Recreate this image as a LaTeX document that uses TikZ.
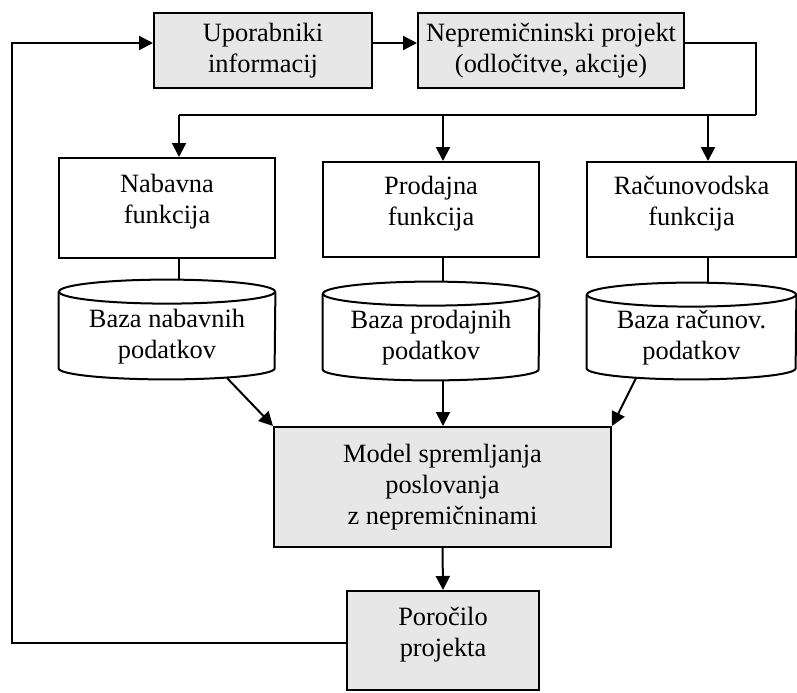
\documentclass[tikz,border=0pt]{standalone}
\usepackage{fontspec}
\setmainfont{Liberation Serif}
\usetikzlibrary{arrows.meta,calc}
\definecolor{boxgray}{RGB}{231,231,231}
\tikzset{
  ln/.style={line width=1pt},
  arr/.style={line width=1pt, -{Triangle[length=7pt,width=7pt]}},
  box/.style={draw, line width=1pt, inner sep=0pt, align=center,
    font=\fontsize{13.2pt}{15.5pt}\selectfont},
  gbox/.style={box, fill=boxgray},
  txt/.style={inner sep=0pt, align=center, font=\fontsize{13.2pt}{15.5pt}\selectfont},
  area/.style={inner sep=0pt},
}
\newcommand\dbcyl[2]{%
  \draw[ln] ([yshift=-6pt]#1.north west) -- ([yshift=5.5pt]#1.south west)
    arc[start angle=180, end angle=360, x radius=#2, y radius=5.5pt]
    -- ([yshift=-6pt]#1.north east);
  \draw[ln] ([yshift=-6pt]#1.north) ellipse[x radius=#2, y radius=6pt];}
\begin{document}
\begin{tikzpicture}[x=0.5pt, y=-0.5pt]
\useasboundingbox (0,0) rectangle (797,692);

% top boxes
\node[gbox, minimum width=109pt, minimum height=37.5pt] (up) at (263,50.5) {Uporabniki\\informacij};
\node[gbox, minimum width=133pt, minimum height=37.5pt] (nep) at (551,50.5) {Nepremičninski projekt\\(odločitve, akcije)};

% function boxes
\node[box, minimum width=108pt, minimum height=50pt] (nab) at (167,208) {};
\node[box, minimum width=108pt, minimum height=47.5pt] (pro) at (431,209.5) {};
\node[box, minimum width=104.5pt, minimum height=47.5pt] (rac) at (691.5,209.5) {};
\node[txt] (nabt) at ([yshift=3pt]nab.center) {Nabavna\\funkcija};
\node[txt] (prot) at ([yshift=3pt]pro.center) {Prodajna\\funkcija};
\node[txt] (ract) at ([yshift=3pt]rac.center) {Računovodska\\funkcija};

% databases
\node[area, minimum width=108pt, minimum height=49.5pt] (cnab) at (167,329.5) {};
\node[area, minimum width=108pt, minimum height=49pt] (cpro) at (431,331) {};
\node[area, minimum width=104.5pt, minimum height=48pt] (crac) at (691.5,331) {};
\dbcyl{cnab}{54pt}
\dbcyl{cpro}{54pt}
\dbcyl{crac}{52.25pt}
\node[txt] (cnabt) at ([yshift=-3.5pt]cnab.center) {Baza nabavnih\\podatkov};
\node[txt] (cprot) at ([yshift=-3.5pt]cpro.center) {Baza prodajnih\\podatkov};
\node[txt] (cract) at ([yshift=-3.5pt]crac.center) {Baza računov.\\podatkov};

% model and report
\node[gbox, minimum width=168.5pt, minimum height=60pt] (model) at (442.5,487) {Model spremljanja\\poslovanja\\z nepremičninami};
\node[gbox, minimum width=96pt, minimum height=49.5pt] (por) at (443,640.5) {};
\node[txt] (port) at ([yshift=2.75pt]por.center) {Poročilo\\projekta};

% coordinates
\coordinate (fbx) at (12,0);
\coordinate (bus) at (756,115);
\coordinate (busl) at (179,115);
\coordinate (busm) at (443,115);
\coordinate (busr) at (708,115);
\coordinate (d1) at (227,378);
\coordinate (d3) at (636,378);

% connectors
\draw[arr] ([yshift=3.75pt]up.east) -- ([yshift=3.75pt]nep.west);
\draw[ln] ([yshift=3.75pt]nep.east) -| (bus);
\draw[ln] (bus) -- (busl);
\draw[arr] (busl) -- (busl |- nab.north);
\draw[arr] (busm) -- (busm |- pro.north);
\draw[arr] (busr) -- (busr |- rac.north);
\draw[ln] (busl |- nab.south) -- (busl |- cnab.north);
\draw[ln] (busm |- pro.south) -- (busm |- cpro.north);
\draw[ln] (busr |- rac.south) -- (busr |- crac.north);
\draw[arr] (d1) -- (model.north west);
\draw[arr] (busm |- cpro.south) -- (busm |- model.north);
\draw[arr] (d3) -- (model.north east);
\draw[arr] (model.south) -- (por.north);
\draw[arr] ([yshift=-1.25pt]por.west) -- ([yshift=-1.25pt]por.west -| fbx) |- ([yshift=3.75pt]up.west);
\end{tikzpicture}
\end{document}
